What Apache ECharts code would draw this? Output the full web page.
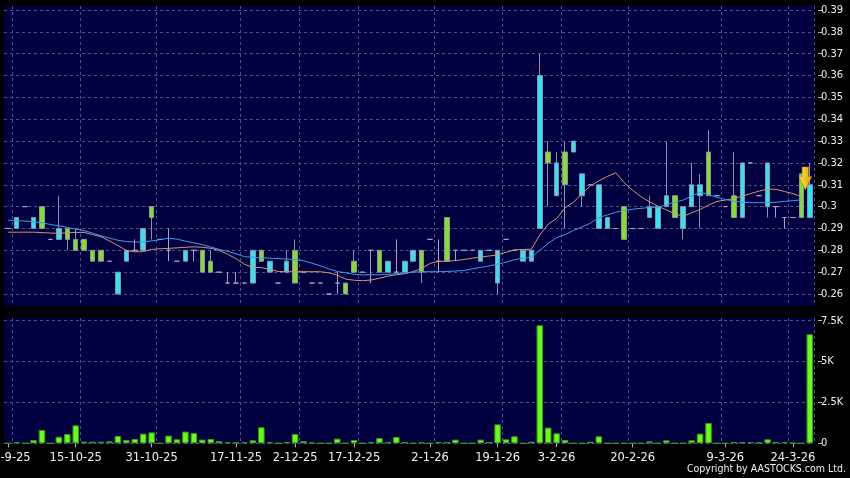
<!DOCTYPE html>
<html>
<head>
<meta charset="utf-8">
<script src="https://cdn.jsdelivr.net/npm/echarts@6/dist/echarts.min.js"></script>
<style>
  html, body { margin: 0; padding: 0; background: #000; }
  #chart { width: 850px; height: 478px; }
</style>
</head>
<body>
<div id="chart"></div>
<script>
// daily bars, oldest first (96 sessions)
var opens = [
  .29, .29, .30, .29, .30, .285, .285, .29, .285, .285,
  .28, .28, .275, .26, .275, .28, .28, .30, .285, .28,
  .275, .275, .28, .28, .275, .27, .265, .265, .265, .265,
  .28, .27, .265, .27, .28, .27, .265, .265, .26, .265,
  .265, .275, .27, .28, .28, .27, .27, .27, .275, .28,
  .285, .275, .295, .28, .28, .28, .275, .28, .265, .285,
  .28, .275, .275, .29, .325, .305, .325, .325, .305, .31,
  .29, .29, .29, .30, .29, .29, .295, .29, .30, .305,
  .29, .30, .305, .325, .305, .30, .305, .295, .32, .305,
  .30, .30, .295, .295, .315, .295
];
var closes = [
  .29, .295, .30, .295, .29, .285, .29, .285, .28, .28,
  .275, .275, .275, .27, .28, .28, .29, .295, .285, .28,
  .275, .28, .28, .27, .27, .27, .265, .265, .265, .28,
  .275, .275, .265, .275, .265, .27, .265, .265, .26, .265,
  .26, .27, .27, .28, .27, .275, .27, .275, .28, .27,
  .285, .275, .275, .28, .28, .28, .28, .28, .28, .285,
  .28, .28, .28, .36, .32, .32, .31, .33, .315, .31,
  .31, .295, .29, .285, .29, .29, .30, .30, .305, .295,
  .30, .31, .31, .305, .305, .30, .295, .32, .32, .305,
  .32, .30, .295, .295, .295, .31
];
var lows = [
  .29, .29, .30, .29, .29, .285, .285, .28, .28, .28,
  .275, .275, .275, .26, .275, .28, .28, .285, .285, .275,
  .275, .275, .275, .27, .27, .27, .265, .265, .265, .265,
  .275, .27, .265, .27, .265, .27, .265, .265, .26, .26,
  .26, .27, .27, .265, .27, .27, .27, .27, .275, .265,
  .285, .27, .275, .275, .28, .28, .275, .28, .26, .285,
  .28, .275, .275, .29, .30, .305, .29, .325, .30, .31,
  .29, .29, .29, .285, .29, .29, .295, .29, .30, .295,
  .285, .30, .29, .305, .305, .30, .295, .295, .32, .305,
  .295, .295, .29, .295, .295, .295
];
var highs = [
  .29, .295, .30, .295, .30, .285, .305, .29, .29, .285,
  .28, .28, .275, .27, .28, .285, .29, .30, .285, .29,
  .275, .28, .28, .28, .28, .27, .27, .27, .265, .28,
  .28, .275, .265, .28, .285, .27, .265, .265, .26, .27,
  .265, .28, .27, .28, .28, .275, .285, .275, .28, .28,
  .285, .285, .295, .28, .28, .28, .28, .28, .28, .285,
  .28, .28, .28, .37, .33, .325, .33, .33, .315, .31,
  .31, .295, .29, .30, .29, .29, .305, .30, .33, .305,
  .30, .32, .315, .335, .305, .30, .325, .32, .32, .305,
  .32, .30, .295, .295, .315, .32
];
var volumes = [
  0, 60, 0, 200, 815, 0, 400, 570, 1100, 100,
  100, 100, 120, 450, 200, 265, 590, 670, 0, 470,
  245, 715, 630, 225, 265, 140, 60, 60, 60, 185,
  980, 80, 0, 80, 570, 140, 40, 0, 0, 285,
  0, 200, 0, 80, 325, 80, 390, 80, 0, 60,
  0, 80, 80, 225, 0, 0, 225, 80, 1160, 245,
  430, 0, 100, 7220, 960, 610, 205, 0, 0, 100,
  430, 0, 0, 0, 0, 0, 120, 0, 185, 0,
  0, 185, 590, 1245, 0, 0, 80, 80, 80, 40,
  245, 80, 80, 30, 0, 6670
];
// moving averages as drawn (orange = short, blue = long)
var maShort = [
  .2883, .2883, .2883, .2883, .2881, .2879, .2878, .2880, .2882, .2882,
  .2872, .2862, .2843, .2822, .2799, .2793, .2794, .2804, .2807, .2809,
  .2811, .2814, .2816, .2814, .2809, .2800, .2782, .2762, .2736, .2721,
  .2721, .2713, .2703, .2702, .2702, .2702, .2702, .2702, .2697, .2686,
  .2668, .2663, .2661, .2664, .2672, .2682, .2688, .2693, .2703, .2717,
  .2740, .2749, .2750, .2753, .2758, .2764, .2769, .2774, .2779, .2791,
  .2802, .2804, .2805, .2870, .2920, .2945, .2995, .3020, .3060, .3095,
  .3118, .3138, .3155, .3110, .3075, .3045, .3022, .3002, .2985, .2968,
  .2955, .2972, .2987, .3007, .3024, .3030, .3037, .3048, .3060, .3071,
  .3080, .3079, .3069, .3060, .3045, null
];
var maLong = [
  .2938, .2936, .2934, .2931, .2926, .2918, .2912, .2905, .2897, .2890,
  .2879, .2866, .2856, .2846, .2840, .2838, .2839, .2843, .2849, .2855,
  .2851, .2842, .2834, .2826, .2815, .2804, .2795, .2784, .2771, .2768,
  .2766, .2764, .2762, .2760, .2758, .2752, .2741, .2729, .2715, .2703,
  .2697, .2690, .2687, .2688, .2688, .2690, .2693, .2696, .2700, .2702,
  .2702, .2702, .2703, .2705, .2707, .2715, .2722, .2729, .2736, .2746,
  .2757, .2764, .2768, .2800, .2832, .2858, .2872, .2891, .2907, .2924,
  .2950, .2962, .2974, .2983, .2988, .2992, .2996, .2998, .3008, .3020,
  .3030, .3048, .3066, .3055, .3042, .3033, .3025, .3020, .3018, .3018,
  .3018, .3020, .3024, .3027, .3031, null
];
// date labels and where they sit (session index)
var tickIdx = [0, 8, 17, 27, 34, 41, 50, 58, 65, 74, 85, 93];
var tickText = ['22-9-25', '15-10-25', '31-10-25', '17-11-25', '2-12-25', '17-12-25',
                '2-1-26', '19-1-26', '3-2-26', '20-2-26', '9-3-26', '24-3-26'];
// vertical grid lines fall on these session boundaries
var gridIdx = [1, 9, 18, 28, 35, 42, 51, 59, 66, 74, 85, 93];
// yellow marker on the latest bars
var arrowAt = { index: 94, price: 0.3129 };

var chart = echarts.init(document.getElementById('chart'));

var cats = opens.map(function (v, i) { return String(i); });
var candles = opens.map(function (o, i) { return [o, closes[i], lows[i], highs[i]]; });

var dash = { color: '#50508a', type: [3, 3], width: 1 };
var isLabel = function (i) { return tickIdx.indexOf(i) >= 0; };
var isGrid = function (i) { return gridIdx.indexOf(i) >= 0; };
var font = 'DejaVu Sans';
var fontNarrow = 'DejaVu Sans Condensed';

function bgAxis(g) {
  return {
    type: 'category', gridIndex: g, data: cats,
    axisLine: { show: false }, axisTick: { show: false }, axisLabel: { show: false },
    splitLine: { show: true, interval: isGrid, lineStyle: dash }
  };
}

function panel(top, height, bg) {
  var g = { left: 4, right: 36, top: top, height: height, outerBoundsMode: 'none', containLabel: false };
  if (bg) {
    g.show = true;
    g.backgroundColor = '#000040';
    g.borderWidth = 0;
  }
  return g;
}

var option = {
  backgroundColor: '#000',
  animation: false,
  textStyle: { fontFamily: font },
  grid: [
    panel(10, 284),        // prices 0.26..0.39
    panel(320.7, 122.6),   // volume 0..7.5K
    panel(6, 300, true),
    panel(318, 126, true)
  ],
  xAxis: [
    { type: 'category', gridIndex: 0, data: cats, show: false },
    {
      type: 'category', gridIndex: 1, data: cats,
      axisLine: { show: false },
      axisTick: { show: true, alignWithLabel: true, interval: isLabel, length: 4, lineStyle: { color: '#b8b8b8' } },
      axisLabel: {
        interval: isLabel, color: '#f0f0f0', fontSize: 11.5, fontFamily: font, margin: 9,
        formatter: function (v, i) { return tickText[tickIdx.indexOf(i)] || ''; }
      },
      splitLine: { show: false }
    },
    bgAxis(2),
    bgAxis(3)
  ],
  yAxis: [
    {
      type: 'value', gridIndex: 0, position: 'right', offset: 4,
      min: 0.26, max: 0.39, interval: 0.01,
      axisLine: { show: false },
      axisTick: { show: true, length: 4, lineStyle: { color: '#b8b8b8' } },
      axisLabel: { color: '#f0f0f0', fontSize: 11, fontFamily: fontNarrow, margin: 3 },
      splitLine: { show: true, lineStyle: dash }
    },
    {
      type: 'value', gridIndex: 1, position: 'right', offset: 4,
      min: 0, max: 7500, interval: 2500,
      axisLine: { show: false },
      axisTick: { show: true, length: 4, lineStyle: { color: '#b8b8b8' } },
      axisLabel: {
        color: '#f0f0f0', fontSize: 11, fontFamily: fontNarrow, margin: 3,
        formatter: function (v) { return v === 0 ? '0' : (v / 1000) + 'K'; }
      },
      splitLine: { show: true, lineStyle: dash }
    },
    { type: 'value', gridIndex: 2, show: false },
    { type: 'value', gridIndex: 3, show: false }
  ],
  series: [
    {
      type: 'candlestick', xAxisIndex: 0, yAxisIndex: 0,
      data: candles, barWidth: 5,
      itemStyle: {
        color: '#30e4f2', color0: '#84e023',
        borderColor: '#8a94a6', borderColor0: '#8a94a6', borderColorDoji: '#a6a6b6',
        borderWidth: 1
      },
      markPoint: {
        symbol: 'path://M3.5,0 L10.5,0 L10.5,10 L14,10 L7,24 L0,10 L3.5,10 Z',
        symbolSize: [13, 23],
        symbolOffset: [4, 0],
        label: { show: false },
        itemStyle: {
          color: new echarts.graphic.LinearGradient(0, 0, 1, 0, [
            { offset: 0, color: '#ffe84a' },
            { offset: 1, color: '#e0a000' }
          ]),
          borderColor: '#b07800', borderWidth: 0.5
        },
        data: [{ coord: [arrowAt.index, arrowAt.price] }]
      }
    },
    {
      type: 'line', xAxisIndex: 0, yAxisIndex: 0, data: maShort,
      symbol: 'none', lineStyle: { color: '#d89470', width: 1 }
    },
    {
      type: 'line', xAxisIndex: 0, yAxisIndex: 0, data: maLong,
      symbol: 'none', lineStyle: { color: '#3c9ee6', width: 1 }
    },
    {
      type: 'bar', xAxisIndex: 1, yAxisIndex: 1, data: volumes, barWidth: 6.5,
      itemStyle: { color: '#66ff14', borderColor: '#3a9a12', borderWidth: 1 }
    }
  ],
  graphic: [
    {
      type: 'text', right: 4, top: 464,
      style: { text: 'Copyright by AASTOCKS.com Ltd.', fill: '#f0f0f0', font: '10.5px "DejaVu Sans Condensed"' }
    }
  ]
};

chart.setOption(option);
</script>
</body>
</html>
